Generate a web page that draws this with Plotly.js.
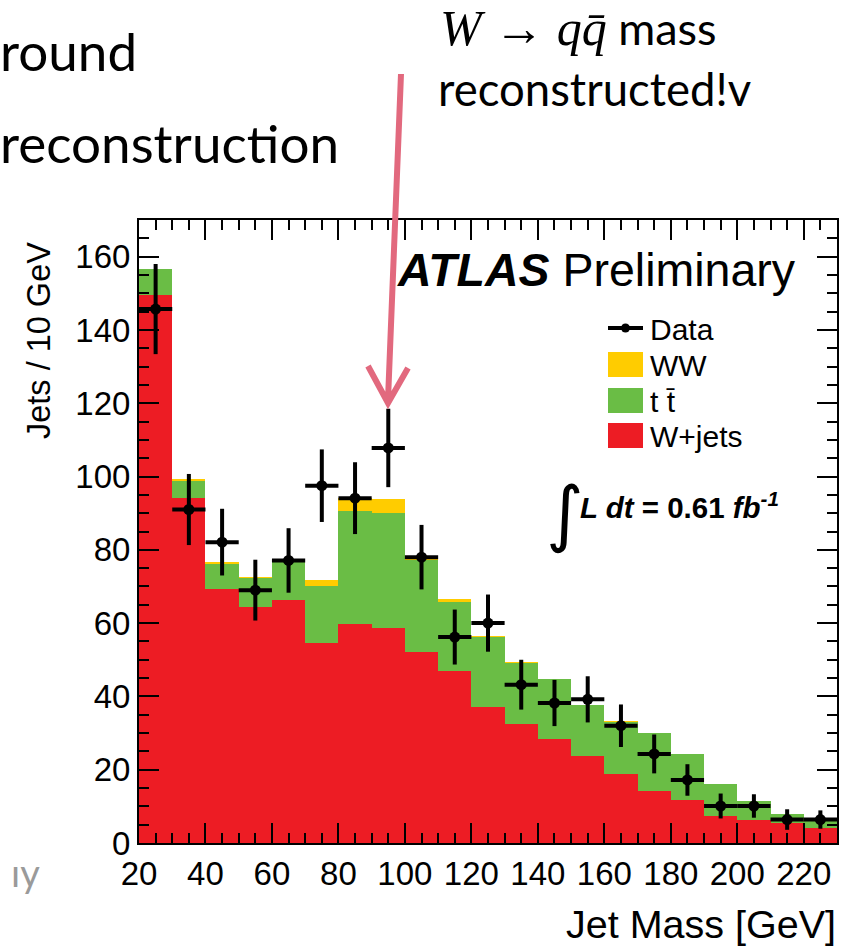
<!DOCTYPE html>
<html>
<head>
<meta charset="utf-8">
<script src="https://cdn.plot.ly/plotly-3.0.1.min.js"></script>
<style>html,body{margin:0;padding:0;background:#fff;}#chart{width:850px;height:947px;}</style>
</head>
<body>
<div id="chart"></div>
<script>
// ---- data ----
const binCenters = [25,35,45,55,65,75,85,95,105,115,125,135,145,155,165,175,185,195,205,215,225];
const wjets = [149.5,94.1,69.4,64.4,66.4,54.6,59.8,58.7,52.0,46.9,37.2,32.6,28.3,23.8,18.8,14.2,11.7,7.4,6.4,5.5,4.2];
const ttbar = [7.0,4.8,6.6,8.0,10.7,15.4,30.7,31.3,25.3,18.8,19.0,16.5,16.4,13.8,14.3,15.7,12.6,8.7,5.1,2.3,2.1];
const ww    = [0.2,0.4,0.6,0.2,0.4,1.9,3.6,3.9,0.5,0.9,0.4,0.4,0.1,0.1,0.1,0.1,0.1,0,0,0,0];
const dataVals = [145.7,91.0,82.1,69.0,77.1,97.5,94.1,107.8,78.0,56.2,60.0,43.2,38.2,39.2,32.0,24.3,17.2,10.1,10.1,6.4,6.4];
const dataErr  = [12.3,9.7,9.1,8.3,8.8,9.9,9.8,10.7,8.8,7.5,7.8,6.8,6.3,6.3,5.8,5.3,4.3,3.4,3.2,2.8,2.5];
const binHalfWidth = 5;
const xTicks = [20,40,60,80,100,120,140,160,180,200,220];
const yTicks = [0,20,40,60,80,100,120,140,160];
const legendLabels = ["Data","WW","t t\u0304","W+jets"];

// ---- styling ----
const RED = "#ED1C24", GREEN = "#6ABD45", YELLOW = "#FFCC00", PINK = "#E2697E";
const HF = "Liberation Sans, Arial, sans-serif";
const SF = "Lato, sans-serif";

// page-pixel -> paper coordinates (plot area 139..837 x 220..843)
const L = 139, R = 837, T = 220, B = 843;
const px = x => (x - L) / (R - L);
const py = y => (B - y) / (B - T);

const traces = [
  {type:"bar", x:binCenters, y:wjets, width:10, name:"W+jets", marker:{color:RED, line:{width:0}}, hoverinfo:"skip"},
  {type:"bar", x:binCenters, y:ttbar, width:10, name:"ttbar", marker:{color:GREEN, line:{width:0}}, hoverinfo:"skip"},
  {type:"bar", x:binCenters, y:ww, width:10, name:"WW", marker:{color:YELLOW, line:{width:0}}, hoverinfo:"skip"},
  {type:"scatter", mode:"markers", x:binCenters, y:dataVals, name:"Data",
   marker:{color:"#000", size:11},
   error_y:{type:"data", array:dataErr, thickness:4, width:0, color:"#000"},
   error_x:{type:"constant", value:binHalfWidth, thickness:4, width:0, color:"#000"},
   cliponaxis:false}
];

const shapes = [];
const annotations = [];

// legend (drawn manually like the ROOT legend)
const legTop = [328, 364.5, 400.5, 435.5];
shapes.push({type:"line", xref:"paper", yref:"paper", x0:px(608), x1:px(643), y0:py(legTop[0]), y1:py(legTop[0]), line:{color:"#000", width:4}});
shapes.push({type:"circle", xref:"paper", yref:"paper", x0:px(621), x1:px(630), y0:py(legTop[0]-4.5), y1:py(legTop[0]+4.5), fillcolor:"#000", line:{width:0}});
const legCols = [null, YELLOW, GREEN, RED];
for (let i = 1; i < 4; i++) {
  shapes.push({type:"rect", xref:"paper", yref:"paper", x0:px(608), x1:px(643), y0:py(legTop[i]-12.5), y1:py(legTop[i]+12.5), fillcolor:legCols[i], line:{width:0}});
}
for (let i = 0; i < 4; i++) {
  annotations.push({xref:"paper", yref:"paper", x:px(648), y:py(legTop[i]+1), xanchor:"left", yanchor:"middle",
    text:legendLabels[i], showarrow:false, font:{family:HF, size:30, color:"#000"}});
}

// ATLAS label
annotations.push({xref:"paper", yref:"paper", x:px(395), y:py(270), xanchor:"left", yanchor:"middle",
  text:"<b><i>ATLAS</i></b> Preliminary", showarrow:false, font:{family:HF, size:46.5, color:"#000"}});

// luminosity
annotations.push({xref:"paper", yref:"paper", x:px(544), y:py(513), xanchor:"left", yanchor:"middle",
  text:"\u222B", showarrow:false, font:{family:"DejaVu Sans, sans-serif", size:72, color:"#000"}});
annotations.push({xref:"paper", yref:"paper", x:px(578), y:py(505), xanchor:"left", yanchor:"middle",
  text:"<b><i>L dt</i> = 0.61 <i>fb</i><sup><i>-1</i></sup></b>", showarrow:false, font:{family:HF, size:29.5, color:"#000"}});

// axis titles
annotations.push({xref:"paper", yref:"paper", x:px(39), y:py(341), xanchor:"center", yanchor:"middle", textangle:-90,
  text:"Jets / 10 GeV", showarrow:false, font:{family:HF, size:32.5, color:"#000"}});
annotations.push({xref:"paper", yref:"paper", x:px(838), y:py(924), xanchor:"right", yanchor:"middle",
  text:"Jet Mass [GeV]", showarrow:false, font:{family:HF, size:39.5, color:"#000"}});

// slide texts
annotations.push({xref:"paper", yref:"paper", x:px(-2), y:py(51), xanchor:"left", yanchor:"middle",
  text:"round", showarrow:false, font:{family:SF, size:53, color:"#000"}});
annotations.push({xref:"paper", yref:"paper", x:px(-2), y:py(143), xanchor:"left", yanchor:"middle",
  text:"reconstruction", showarrow:false, font:{family:SF, size:53, color:"#000"}});
annotations.push({xref:"paper", yref:"paper", x:px(438), y:py(28), xanchor:"left", yanchor:"middle",
  text:"<span style='font-family:Liberation Serif;font-size:50px'><i>W</i> \u2192 <i>q</i><i>q\u0304</i></span> mass", showarrow:false, font:{family:SF, size:45, color:"#000"}});
annotations.push({xref:"paper", yref:"paper", x:px(436), y:py(88), xanchor:"left", yanchor:"middle",
  text:"reconstructed!v", showarrow:false, font:{family:SF, size:45.5, color:"#000"}});
annotations.push({xref:"paper", yref:"paper", x:px(9), y:py(872), xanchor:"left", yanchor:"middle",
  text:"\u0131y", showarrow:false, font:{family:SF, size:38, color:"#9a9a9a"}});

// pink arrow
shapes.push({type:"path", xref:"paper", yref:"paper",
  path:`M ${px(401)},${py(74)} L ${px(388)},${py(400)} M ${px(368)},${py(366)} L ${px(388)},${py(403)} L ${px(408)},${py(368)}`,
  line:{color:PINK, width:6}, layer:"above"});

const axisCommon = {
  ticks:"inside", ticklen:20, tickwidth:2, tickcolor:"#000",
  showline:true, linecolor:"#000", linewidth:2, mirror:"ticks",
  showgrid:false, zeroline:false,
  tickfont:{family:HF, size:33, color:"#000"},
  minor:{ticks:"inside", ticklen:10, tickwidth:2, tickcolor:"#000", dtick:5, showgrid:false}
};

const layout = {
  width:850, height:947,
  margin:{l:L, r:850-R, t:T, b:947-B, pad:0},
  paper_bgcolor:"#fff", plot_bgcolor:"#fff",
  barmode:"stack", bargap:0, showlegend:false,
  xaxis:Object.assign({}, axisCommon, {range:[20,230], tickvals:xTicks, ticktext:xTicks.map(String), minor:Object.assign({}, axisCommon.minor, {tick0:20})}),
  yaxis:Object.assign({}, axisCommon, {range:[0,170], tickvals:yTicks, ticktext:yTicks.map(String), minor:Object.assign({}, axisCommon.minor, {tick0:0})}),
  shapes:shapes, annotations:annotations
};

Plotly.newPlot("chart", traces, layout, {staticPlot:true, displayModeBar:false});
</script>
</body>
</html>
